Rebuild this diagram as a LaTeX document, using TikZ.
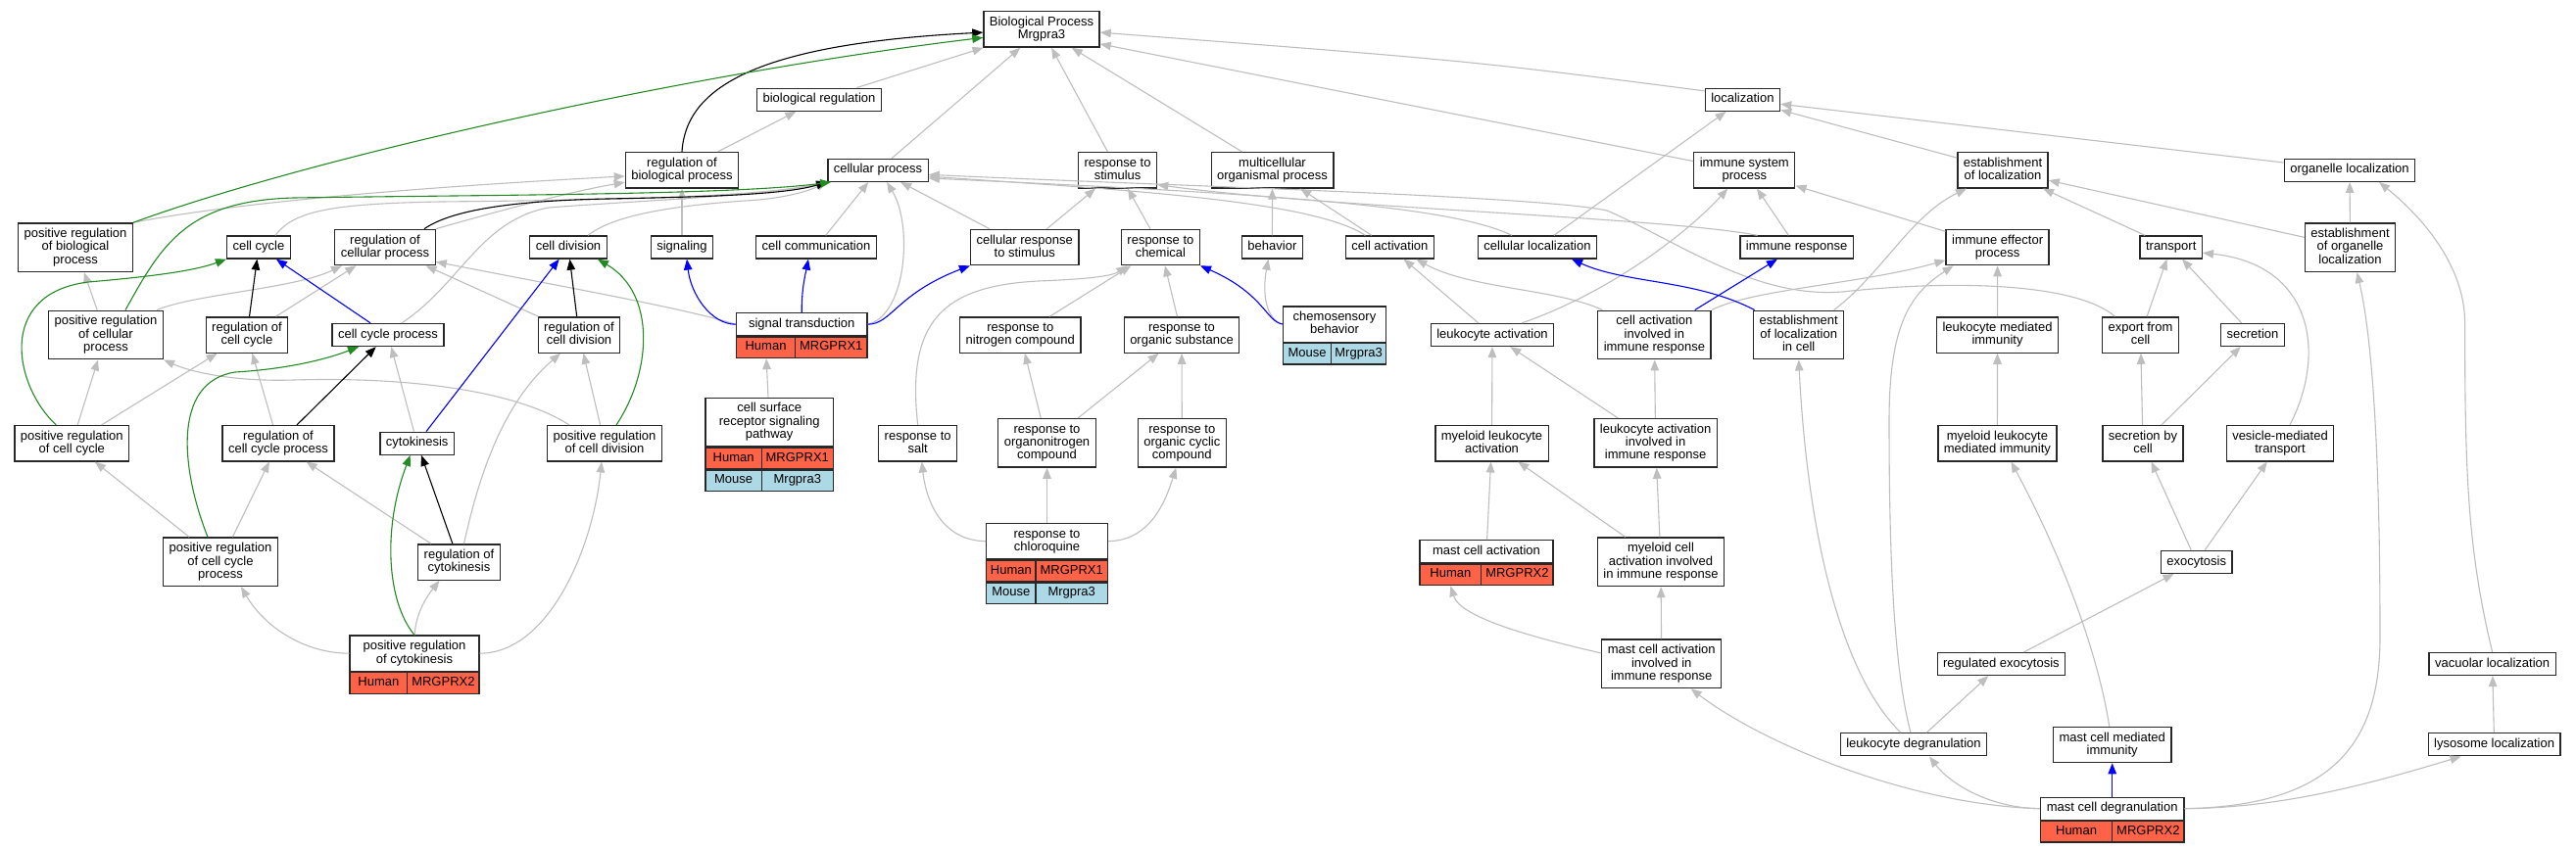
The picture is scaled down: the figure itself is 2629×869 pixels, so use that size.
\documentclass[tikz,border=0pt]{standalone}
\usepackage{fontspec}
\setmainfont{Liberation Sans}
\usetikzlibrary{arrows.meta}
\definecolor{tomato}{RGB}{255,99,71}
\definecolor{lightblue}{RGB}{173,216,230}
\definecolor{forestgreen}{RGB}{34,139,34}
\definecolor{edgegray}{RGB}{190,190,190}
\definecolor{boxline}{RGB}{40,40,40}

\begin{document}
\begin{tikzpicture}[x=1pt, y=-1pt, line width=1.1pt,
    every node/.style={font=\fontsize{13}{13.3}\selectfont},
    go/.style={draw=boxline, line width=1.3pt, fill=white, align=center, inner xsep=6pt, inner ysep=5.1pt, text height=9.6pt, text depth=3.2pt},
    lines2/.style={text height=22.9pt},
    lines3/.style={text height=36.2pt},
    cell/.style={draw=boxline, line width=1.3pt, inner xsep=1pt, inner ysep=0pt, minimum height=21.5pt, text height=9.6pt, text depth=3.2pt},
    human/.style={cell, fill=tomato},
    mouse/.style={cell, fill=lightblue},
    tip/.style={-{Triangle[length=11pt,width=8.5pt]}},
    isa/.style={draw=edgegray, tip},
    regulates/.style={draw=black, tip},
    posreg/.style={draw=forestgreen, tip},
    partof/.style={draw=blue, tip}]
        \fill[white] (0,0) rectangle (2629,869);
        \useasboundingbox (0,0) rectangle (2629,869);

        % 第一、二层
        \node[go, lines2] (bp) at (1063,30) {Biological Process\\Mrgpra3};
        \node[go] (bioreg) at (836,101.7) {biological regulation};
        \node[go] (loc) at (1778.4,101.8) {localization};

        % 第三层
        \node[go, lines2] (regbp) at (696,173.8) {regulation of\\biological process};
        \node[go] (cellproc) at (896,173.8) {cellular process};
        \node[go, lines2] (respstim) at (1140.6,173.8) {response to\\stimulus};
        \node[go, lines2] (multi) at (1298.5,173.8) {multicellular\\organismal process};
        \node[go, lines2] (isp) at (1780.3,173.8) {immune system\\process};
        \node[go, lines2] (estloc) at (2044,173.8) {establishment\\of localization};
        \node[go] (orgloc) at (2398,173.8) {organelle localization};

        % 第四层
        \node[go, lines3] (posregbp) at (77,252.7) {positive regulation\\of biological\\process};
        \node[go] (cellcycle) at (264,252.5) {cell cycle};
        \node[go, lines2] (regcellproc) at (393,252.5) {regulation of\\cellular process};
        \node[go] (celldiv) at (580,252.5) {cell division};
        \node[go] (signaling) at (696,252.5) {signaling};
        \node[go] (cellcomm) at (833,252.5) {cell communication};
        \node[go, lines2] (cellresp) at (1045.7,252.5) {cellular response\\to stimulus};
        \node[go, lines2] (respchem) at (1184.4,252.5) {response to\\chemical};
        \node[go] (behavior) at (1298.4,252.5) {behavior};
        \node[go] (cellact) at (1418.4,252.5) {cell activation};
        \node[go] (cellloc) at (1569,252.5) {cellular localization};
        \node[go] (immresp) at (1833.6,252.5) {immune response};
        \node[go, lines2] (iep) at (2038.6,252.5) {immune effector\\process};
        \node[go] (transport) at (2215.7,252.5) {transport};
        \node[go, lines3] (estorgloc) at (2398.5,252.7) {establishment\\of organelle\\localization};

        % 第五层
        \node[go, lines3] (posregcellproc) at (108,342) {positive regulation\\of cellular\\process};
        \node[go, lines2] (regcc) at (252,342) {regulation of\\cell cycle};
        \node[go] (ccproc) at (396,342) {cell cycle process};
        \node[go, lines2] (regcelldiv) at (591,342) {regulation of\\cell division};
        \node[go, minimum width=133.5pt] (sigtrans) at (818.2,331.2) {signal transduction};
        \node[human, minimum width=60.2pt, anchor=north west] (sigtransH) at (sigtrans.south west) {Human};
        \node[human, minimum width=73.3pt, anchor=north east] (sigtransG) at (sigtrans.south east) {MRGPRX1};
        \node[go, lines2] (respnitro) at (1041.3,342) {response to\\nitrogen compound};
        \node[go, lines2] (resporg) at (1206,342) {response to\\organic substance};
        \node[go, lines2, minimum width=105.2pt] (chemo) at (1362,331) {chemosensory\\behavior};
        \node[mouse, minimum width=49.2pt, anchor=north west] (chemoM) at (chemo.south west) {Mouse};
        \node[mouse, minimum width=56pt, anchor=north east] (chemoG) at (chemo.south east) {Mrgpra3};
        \node[go] (leukact) at (1523,342) {leukocyte activation};
        \node[go, lines3] (cellactimm) at (1688.4,342) {cell activation\\involved in\\immune response};
        \node[go, lines3] (estloccell) at (1835.7,342) {establishment\\of localization\\in cell};
        \node[go, lines2] (leukmedimm) at (2038.5,342) {leukocyte mediated\\immunity};
        \node[go, lines2] (export) at (2184.5,342) {export from\\cell};
        \node[go] (secretion) at (2299,342) {secretion};

        % 第六层
        \node[go, lines2] (posregcc) at (73.3,452.7) {positive regulation\\of cell cycle};
        \node[go, lines2] (regccproc) at (284,452.7) {regulation of\\cell cycle process};
        \node[go] (cytokinesis) at (425.7,452.7) {cytokinesis};
        \node[go, lines2] (posregcelldiv) at (617,452.7) {positive regulation\\of cell division};
        \node[go, lines3, minimum width=130.4pt] (csrsp) at (785.2,431) {cell surface\\receptor signaling\\pathway};
        \node[human, minimum width=57.2pt, anchor=north west] (csrspH) at (csrsp.south west) {Human};
        \node[human, minimum width=73.2pt, anchor=north east] (csrspG) at (csrsp.south east) {MRGPRX1};
        \node[mouse, minimum width=57.2pt, anchor=north west] (csrspM) at (csrspH.south west) {Mouse};
        \node[mouse, minimum width=73.2pt, anchor=north east] (csrspN) at (csrspG.south east) {Mrgpra3};
        \node[go, lines2] (respsalt) at (936.7,452.7) {response to\\salt};
        \node[go, lines3] (resporgnitro) at (1068.5,452.3) {response to\\organonitrogen\\compound};
        \node[go, lines3] (respcyclic) at (1206.3,452.3) {response to\\organic cyclic\\compound};
        \node[go, lines2] (myeleukact) at (1522.5,452.7) {myeloid leukocyte\\activation};
        \node[go, lines3] (leukactimm) at (1689.6,452.3) {leukocyte activation\\involved in\\immune response};
        \node[go, lines2] (myeleukmedimm) at (2038.4,452.7) {myeloid leukocyte\\mediated immunity};
        \node[go, lines2] (secbycell) at (2187,452.7) {secretion by\\cell};
        \node[go, lines2] (vesicle) at (2327,452.7) {vesicle-mediated\\transport};

        % 第七层
        \node[go, lines3] (posregccproc) at (225,573.8) {positive regulation\\of cell cycle\\process};
        \node[go, lines2] (regcyto) at (468.5,574) {regulation of\\cytokinesis};
        \node[go, lines2, minimum width=123.7pt] (chloro) at (1068.5,552.7) {response to\\chloroquine};
        \node[human, minimum width=50.4pt, anchor=north west] (chloroH) at (chloro.south west) {Human};
        \node[human, minimum width=73.3pt, anchor=north east] (chloroG) at (chloro.south east) {MRGPRX1};
        \node[mouse, minimum width=50.4pt, anchor=north west] (chloroM) at (chloroH.south west) {Mouse};
        \node[mouse, minimum width=73.3pt, anchor=north east] (chloroN) at (chloroG.south east) {Mrgpra3};
        \node[go, minimum width=136pt] (mastact) at (1517,563.2) {mast cell activation};
        \node[human, minimum width=62.8pt, anchor=north west] (mastactH) at (mastact.south west) {Human};
        \node[human, minimum width=73.2pt, anchor=north east] (mastactG) at (mastact.south east) {MRGPRX2};
        \node[go, lines3] (myelactimm) at (1695,573.8) {myeloid cell\\activation involved\\in immune response};
        \node[go] (exocytosis) at (2241.7,573.8) {exocytosis};

        % 第八、九、十层
        \node[go, lines2, minimum width=132pt] (posregcyto) at (423,667.2) {positive regulation\\of cytokinesis};
        \node[human, minimum width=58.8pt, anchor=north west] (posregcytoH) at (posregcyto.south west) {Human};
        \node[human, minimum width=73.2pt, anchor=north east] (posregcytoG) at (posregcyto.south east) {MRGPRX2};
        \node[go, lines3] (mastactimm) at (1695.7,677.8) {mast cell activation\\involved in\\immune response};
        \node[go] (regexo) at (2042.4,678) {regulated exocytosis};
        \node[go] (vacloc) at (2543.6,678) {vacuolar localization};
        \node[go] (leukdegran) at (1953,760.3) {leukocyte degranulation};
        \node[go, lines2] (mastmedimm) at (2155.7,760.5) {mast cell mediated\\immunity};
        \node[go] (lysoloc) at (2545.6,760.3) {lysosome localization};
        \node[go, minimum width=146.6pt] (mastdegran) at (2155.7,825.7) {mast cell degranulation};
        \node[human, minimum width=73.3pt, anchor=north west] (mastdegranH) at (mastdegran.south west) {Human};
        \node[human, minimum width=73.3pt, anchor=north east] (mastdegranG) at (mastdegran.south east) {MRGPRX2};

        % is_a (灰色)
        \draw[isa] (bioreg) -- (bp);
        \draw[isa] (cellproc) -- (bp);
        \draw[isa] (respstim) -- (bp);
        \draw[isa] (multi) -- (bp);
        \draw[isa] (loc.167) .. controls (1500,62) .. (bp.-3);
        \draw[isa] (isp.170) -- (bp.-14);
        \draw[isa] (posregbp.north east) .. controls (250,205) and (450,190) .. (regbp.186);
        \draw[isa] (regcellproc.north east) .. controls (500,218) and (580,196) .. (regbp.192);
        \draw[isa] (regbp) -- (bioreg);
        \draw[isa] (signaling) -- (regbp);
        \draw[isa] ([xshift=17]cellcycle.north) .. controls (300,215) and (340,208) .. (450,206) .. controls (650,204) and (780,200) .. (cellproc.south west);
        \draw[isa] ([xshift=14]ccproc.north) .. controls (470,290) and (490,225) .. (560,212) .. controls (650,205) and (780,200) .. (cellproc.south west);
        \draw[isa] ([xshift=20]celldiv.north) .. controls (620,225) and (660,212) .. (760,205) .. controls (800,203) and (825,195) .. (cellproc.south west);
        \draw[isa] (cellcomm) -- (cellproc);
        \draw[isa] (sigtrans.east) .. controls (925,322) and (932,230) .. ([xshift=9]cellproc.south);
        \draw[isa] (cellresp) -- (cellproc);
        \draw[isa] ([xshift=-26]cellloc.north) .. controls (1480,210) and (1300,198) .. (cellproc.-9);
        \draw[isa] ([xshift=-25]cellact.north) .. controls (1340,205) and (1150,194) .. (cellproc.-7);
        \draw[isa] ([xshift=-26]export.north) .. controls (2120,290) and (2000,285) .. (1880,298) .. controls (1790,305) and (1710,245) .. (1640,215) .. controls (1570,200) and (1200,190) .. (cellproc.-5);
        \draw[isa] (respchem) -- (respstim);
        \draw[isa] (cellresp) -- (respstim);
        \draw[isa] ([xshift=-40]immresp.north) .. controls (1700,222) and (1350,212) .. (respstim.-20);
        \draw[isa] (behavior) -- (multi);
        \draw[isa] (cellact) -- (multi);
        \draw[isa] (chemo.west) .. controls (1292,326) and (1288,300) .. ([xshift=-4]behavior.south);
        \draw[isa] (respnitro) -- (respchem);
        \draw[isa] (resporg) -- (respchem);
        \draw[isa] (respsalt.north) .. controls (925,330) and (960,292) .. (1060,287) .. controls (1110,285) and (1135,282) .. ([xshift=-34]respchem.south);
        \draw[isa] (resporgnitro) -- (respnitro);
        \draw[isa] (resporgnitro) -- (resporg);
        \draw[isa] (respcyclic) -- (resporg);
        \draw[isa] (chloro.west) .. controls (960,552) and (945,510) .. ([xshift=4]respsalt.south);
        \draw[isa] (chloro) -- (resporgnitro);
        \draw[isa] (chloro.east) .. controls (1175,552) and (1190,510) .. ([xshift=-6]respcyclic.south);
        \draw[isa] (sigtrans.west) .. controls (700,315) and (560,290) .. (regcellproc.-16);
        \draw[isa] (csrsp) -- (sigtransH);
        \draw[isa] (posregcellproc) -- (posregbp);
        \draw[isa] ([xshift=52]posregcellproc.north) .. controls (200,300) and (300,295) .. ([xshift=-44]regcellproc.south);
        \draw[isa] (regcc) -- (regcellproc);
        \draw[isa] (posregcc) -- (posregcellproc);
        \draw[isa] (posregcc) -- (regcc);
        \draw[isa] (regccproc) -- (regcc);
        \draw[isa] (cytokinesis) -- (ccproc);
        \draw[isa] (regcelldiv) -- (regcellproc);
        \draw[isa] (posregcelldiv) -- (regcelldiv);
        \draw[isa] ([xshift=5]regcyto.north) .. controls (490,480) and (515,410) .. ([xshift=-19]regcelldiv.south);
        \draw[isa] ([xshift=-36]posregcelldiv.north) .. controls (520,395) and (400,385) .. (300,388) .. controls (240,390) and (195,380) .. (posregcellproc.south east);
        \draw[isa] (posregccproc) -- (posregcc);
        \draw[isa] (posregccproc) -- (regccproc);
        \draw[isa] (regcyto) -- (regccproc);
        \draw[isa] (posregcyto.north) .. controls (425,625) and (435,610) .. ([xshift=-20]regcyto.south);
        \draw[isa] (posregcyto.west) .. controls (310,667) and (270,640) .. ([xshift=21]posregccproc.south);
        \draw[isa] (posregcyto.east) .. controls (560,667) and (605,560) .. ([xshift=-3]posregcelldiv.south);
        \draw[isa] (cellloc) -- (loc);
        \draw[isa] (estloc) -- (loc);
        \draw[isa] (orgloc) -- (loc);
        \draw[isa] ([xshift=30]leukact.north) .. controls (1640,300) and (1720,240) .. ([xshift=-17]isp.south);
        \draw[isa] (immresp) -- (isp);
        \draw[isa] (iep) -- (isp);
        \draw[isa] (leukact) -- (cellact);
        \draw[isa] ([xshift=-53]cellactimm.north) .. controls (1590,295) and (1500,295) .. ([xshift=27]cellact.south);
        \draw[isa] ([xshift=36]estloccell.north) .. controls (1920,280) and (1950,220) .. ([xshift=-37]estloc.south);
        \draw[isa] (cellactimm.north east) .. controls (1790,295) and (1900,290) .. (iep.194);
        \draw[isa] ([xshift=-3]leukdegran.north) .. controls (1932,680) and (1928,560) .. (1928,430) .. controls (1928,330) and (1950,300) .. ([xshift=8]iep.south west);
        \draw[isa] ([xshift=-13]leukdegran.north) .. controls (1880,690) and (1845,550) .. (estloccell.south);
        \draw[isa] (leukmedimm) -- (iep);
        \draw[isa] (myeleukmedimm) -- (leukmedimm);
        \draw[isa] (transport) -- (estloc);
        \draw[isa] (estorgloc) -- (estloc);
        \draw[isa] (estorgloc) -- (orgloc);
        \draw[isa] (export) -- (transport);
        \draw[isa] (secretion) -- (transport);
        \draw[isa] ([xshift=10]vesicle.north) .. controls (2375,360) and (2360,270) .. (transport.-10);
        \draw[isa] (secbycell) -- (export);
        \draw[isa] (secbycell) -- (secretion);
        \draw[isa] (vacloc.north) .. controls (2518,560) and (2515.6,480) .. (2515.6,330) .. controls (2515.6,270) and (2470,220) .. ([xshift=30]orgloc.south);
        \draw[isa] (mastdegran.east) .. controls (2380,823) and (2429,760) .. (2429,650) .. controls (2429,450) and (2420,340) .. ([xshift=7]estorgloc.south);
        \draw[isa] (mastdegran.east) .. controls (2330,825) and (2420,800) .. ([xshift=-34]lysoloc.south);
        \draw[isa] (lysoloc) -- (vacloc);
        \draw[isa] (mastdegran.west) .. controls (2030,825) and (1990,800) .. ([xshift=16]leukdegran.south);
        \draw[isa] (mastdegran.west) .. controls (1950,822) and (1800,760) .. ([xshift=30]mastactimm.south);
        \draw[isa] ([xshift=-3]mastmedimm.north) .. controls (2140,660) and (2100,560) .. ([xshift=14]myeleukmedimm.south);
        \draw[isa] (exocytosis) -- (secbycell);
        \draw[isa] (exocytosis) -- (vesicle);
        \draw[isa] (regexo) -- (exocytosis);
        \draw[isa] (leukdegran) -- (regexo);
        \draw[isa] (myeleukact) -- (leukact);
        \draw[isa] (leukactimm) -- (leukact);
        \draw[isa] (leukactimm) -- (cellactimm);
        \draw[isa] (mastact) -- (myeleukact);
        \draw[isa] (myelactimm) -- (myeleukact);
        \draw[isa] (myelactimm) -- (leukactimm);
        \draw[isa] (mastactimm) -- (myelactimm);
        \draw[isa] (mastactimm.170) .. controls (1560,650) and (1490,630) .. (mastactH.south);

        % regulates (黑色)
        \draw[regulates] (regbp.north) .. controls (700,90) and (770,45) .. (bp.183);
        \draw[regulates] ([xshift=40]regcellproc.north) .. controls (460,215) and (520,205) .. (620,203) .. controls (720,201) and (800,199) .. (cellproc.south west);
        \draw[regulates] (regcc) -- (cellcycle);
        \draw[regulates] (regccproc) -- (ccproc);
        \draw[regulates] (regcelldiv) -- (celldiv);
        \draw[regulates] (regcyto) -- (cytokinesis);

        % positively regulates (绿色)
        \draw[posreg] (posregbp.north east) .. controls (320,160) and (700,75) .. (bp.188);
        \draw[posreg] ([xshift=20]posregcellproc.north) .. controls (165,250) and (190,205) .. (300,202) .. controls (500,199) and (750,199) .. ([xshift=4]cellproc.south west);
        \draw[posreg] ([xshift=-16]posregcc.north) .. controls (15,395) and (-5,300) .. (90,288) .. controls (160,282) and (200,276) .. (cellcycle.south west);
        \draw[posreg] ([xshift=-13]posregccproc.north) .. controls (185,480) and (175,390) .. (240,380) .. controls (290,377) and (330,368) .. ([xshift=-30]ccproc.south);
        \draw[posreg] ([xshift=12]posregcelldiv.north) .. controls (665,380) and (670,300) .. ([xshift=30]celldiv.south);
        \draw[posreg] (posregcyto.north) .. controls (395,615) and (390,540) .. ([xshift=-7]cytokinesis.south);

        % part of (蓝色)
        \draw[partof] (ccproc) -- (cellcycle);
        \draw[partof] (cytokinesis) -- (celldiv);
        \draw[partof] (sigtrans.west) .. controls (725,331) and (705,300) .. ([xshift=5]signaling.south);
        \draw[partof] (sigtrans.north) .. controls (818,295) and (822,280) .. ([xshift=-8]cellcomm.south);
        \draw[partof] (sigtrans.east) .. controls (910,331) and (915,300) .. (cellresp.south west);
        \draw[partof] (chemo.west) .. controls (1292,328) and (1290,300) .. (respchem.south east);
        \draw[partof] (cellactimm) -- (immresp);
        \draw[partof] ([xshift=-45]estloccell.north) .. controls (1730,285) and (1660,290) .. ([xshift=35]cellloc.south);
        \draw[partof] (mastdegran) -- (mastmedimm);
    \end{tikzpicture}
\end{document}
